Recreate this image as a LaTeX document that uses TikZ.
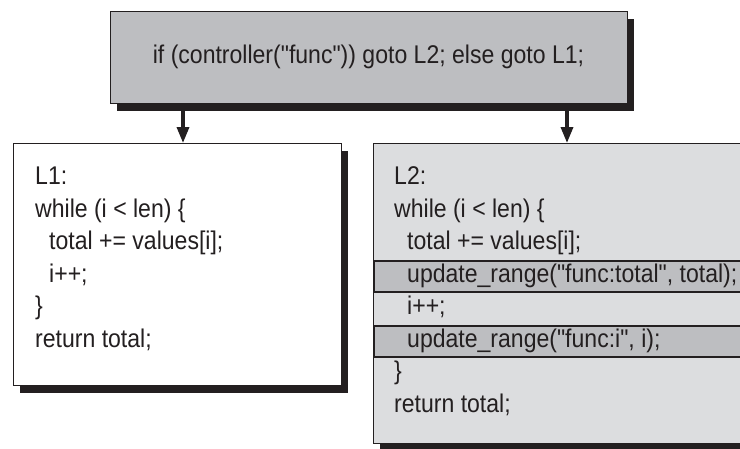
\documentclass[tikz,border=0pt]{standalone}
\usepackage{fontspec}
\setmainfont{Liberation Sans}[Ligatures=TeXOff, FakeStretch=0.9]
\usetikzlibrary{arrows.meta,shadows}

\definecolor{ink}{RGB}{35,31,32}
\definecolor{condfill}{RGB}{189,190,193}
\definecolor{pathfill}{RGB}{220,221,223}

\tikzset{
	shadowbox/.style={draw=ink, line width=1pt, outer sep=0pt,
		drop shadow={shadow xshift=7pt, shadow yshift=-8pt, fill=ink, opacity=1}},
	hitband/.style={draw=ink, line width=1.6pt, fill=condfill, inner sep=0pt,
		minimum width=420pt, minimum height=31pt, anchor=north west},
	codeline/.style={anchor=base west, inner sep=0pt},
	flow/.style={-{Triangle[length=16pt,width=12pt]}, line width=3.4pt, draw=ink},
}

\begin{document}
\begin{tikzpicture}[x=1pt, y=-1pt, font=\fontsize{25.6}{30}\selectfont, text=ink]
	\useasboundingbox (0,0) rectangle (740,448);
	\clip (0,0) rectangle (740,448);

	\node[shadowbox, fill=condfill, minimum width=517pt, minimum height=92pt] (cond) at (368.5,57)
		{if (controller("func")) goto L2; else goto L1;};
	\node[shadowbox, fill=white, minimum width=328pt, minimum height=242pt, anchor=north west] (lbox) at (13,143) {};
	\node[shadowbox, fill=pathfill, minimum width=420pt, minimum height=300pt, anchor=north west] (rbox)
		at ([xshift=32pt]lbox.north east) {};

	% instrumented lines
	\node[hitband] (band1) at ([yshift=-117pt]rbox.north west) {};
	\node[hitband] (band2) at ([yshift=-182pt]rbox.north west) {};

	\foreach \dx/\txt [count=\i] in {0/{L1:}, 0/{while (i < len) \{}, 14/{total += values[i];},
		14/{i++;}, 0/{\}}, 0/{return total;}}
		\node[codeline] (l\i) at ([xshift=\dx pt+22pt, yshift=-\i*32.5pt-9pt]lbox.north west) {\txt};

	\foreach \dx/\txt [count=\i] in {0/{L2:}, 0/{while (i < len) \{}, 13/{total += values[i];},
		13/{update\_range("func:total", total);}, 13/{i++;}, 13/{update\_range("func:i", i);},
		0/{\}}, 0/{return total;}}
		\node[codeline] (r\i) at ([xshift=\dx pt+21pt, yshift=-\i*32.5pt-9pt]rbox.north west) {\txt};

	\coordinate (ltap) at ([xshift=73pt]cond.south west);
	\coordinate (rtap) at ([xshift=-60pt]cond.south east);
	\draw[flow] (ltap) -- (ltap |- lbox.north);
	\draw[flow] (rtap) -- (rtap |- rbox.north);
\end{tikzpicture}
\end{document}
